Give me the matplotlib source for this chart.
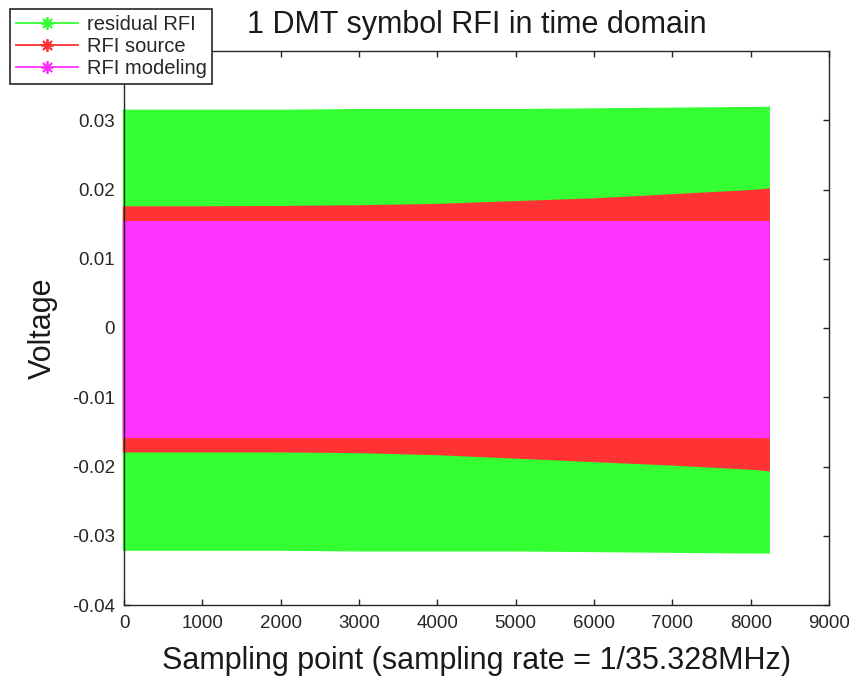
import matplotlib
matplotlib.use("Agg")
import matplotlib.pyplot as plt
from matplotlib.lines import Line2D

plt.rcParams["font.family"] = ["Liberation Sans", "DejaVu Sans"]

# Envelope (peak +/- excursion) of each time-domain signal over one DMT symbol
sample_idx = [0, 1000, 2000, 3000, 4000, 5000, 6000, 7000, 8000, 8224]

residual_hi = [0.0316, 0.0316, 0.0316, 0.0317, 0.0317, 0.0317, 0.0318, 0.0319, 0.0320, 0.0320]
residual_lo = [-0.0321, -0.0321, -0.0321, -0.0322, -0.0322, -0.0322, -0.0323, -0.0324, -0.0325, -0.0325]

source_hi = [0.01765, 0.01765, 0.0177, 0.0178, 0.0180, 0.0184, 0.0188, 0.0194, 0.0200, 0.0202]
source_lo = [-0.0179, -0.0179, -0.0179, -0.0180, -0.0183, -0.0188, -0.0193, -0.0198, -0.0204, -0.0206]

model_hi = [0.0155, 0.0155, 0.0155, 0.0155, 0.0155, 0.0155, 0.0155, 0.0155, 0.0155, 0.0155]
model_lo = [-0.0159, -0.0159, -0.0159, -0.0159, -0.0159, -0.0159, -0.0159, -0.0159, -0.0159, -0.0159]

series_names = ["residual RFI", "RFI source", "RFI modeling"]
series_colors = ["#33ff33", "#ff3333", "#ff33ff"]

x_ticks = [0, 1000, 2000, 3000, 4000, 5000, 6000, 7000, 8000, 9000]
y_ticks = [-0.04, -0.03, -0.02, -0.01, 0, 0.01, 0.02, 0.03]
y_tick_labels = ["-0.04", "-0.03", "-0.02", "-0.01", "0", "0.01", "0.02", "0.03"]

W, H = 855, 677
fig = plt.figure(figsize=(W / 100, H / 100), dpi=100)
ax = fig.add_axes([124 / W, 1 - 605 / H, (829 - 124) / W, (605 - 51) / H])

bands = [(residual_lo, residual_hi), (source_lo, source_hi), (model_lo, model_hi)]
for (lo, hi), col in zip(bands, series_colors):
    ax.fill_between(sample_idx, lo, hi, color=col, linewidth=0, zorder=2)
    # first / last samples spill a little past the plotting area
    ax.plot([sample_idx[0], sample_idx[0]], [lo[0], hi[0]], color=col, lw=2.5,
            clip_on=False, zorder=2, solid_capstyle="butt")
    ax.plot([sample_idx[-1], sample_idx[-1]], [lo[-1], hi[-1]], color=col, lw=2.0,
            clip_on=False, zorder=2, solid_capstyle="butt")

ax.set_xlim(0, 9000)
ax.set_ylim(-0.04, 0.04)
ax.set_xticks(x_ticks)
ax.set_xticklabels([str(v) for v in x_ticks])
ax.set_yticks(y_ticks)
ax.set_yticklabels(y_tick_labels)

edge = "#262626"
for sp in ax.spines.values():
    sp.set_color(edge)
    sp.set_linewidth(1.0)
    sp.set_zorder(5)
ax.tick_params(direction="in", length=4.5, width=1.0, color=edge,
               top=True, right=True, labelsize=13.5, labelcolor="#262626")
ax.tick_params(axis="y", pad=6.5)
ax.tick_params(axis="x", pad=7)

ax.set_title("1 DMT symbol RFI in time domain", fontsize=22, color="#1a1a1a", pad=13)
ax.set_xlabel("Sampling point (sampling rate = 1/35.328MHz)", fontsize=22,
              color="#1a1a1a", labelpad=10)
ax.set_ylabel("Voltage", fontsize=22, color="#1a1a1a", labelpad=10)

handles = [Line2D([0], [0], color=c, lw=1.3, marker=(8, 2, 0), markersize=9,
                  markeredgewidth=1.3, markeredgecolor=c, markerfacecolor=c)
           for c in series_colors]
leg = fig.legend(handles, series_names, loc="upper left",
                 bbox_to_anchor=(10 / W, 1 - 9 / H), fontsize=14.5,
                 frameon=True, fancybox=False, framealpha=1, edgecolor=edge,
                 handlelength=3.1, handletextpad=0.4, labelspacing=0.15,
                 borderpad=0.3, borderaxespad=0)
leg.get_frame().set_linewidth(1.2)
for t in leg.get_texts():
    t.set_color("#262626")

fig.savefig("out.png", dpi=100)
